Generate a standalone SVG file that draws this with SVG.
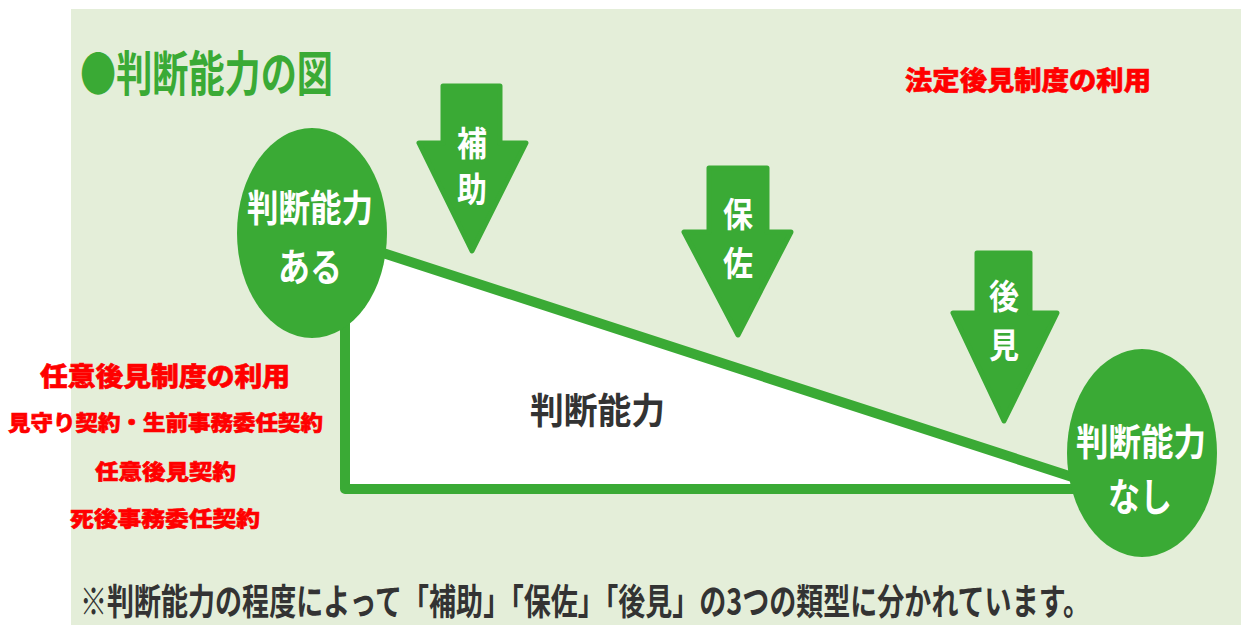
<svg xmlns="http://www.w3.org/2000/svg" width="1241" height="625" viewBox="0 0 1241 625">
<defs>
<style>
.g{fill:#3aaa35}
.arr{fill:#3aaa35;stroke:#3aaa35;stroke-width:5;stroke-linejoin:round}
.w{fill:#ffffff;font-family:"Noto Sans CJK JP","Noto Sans",sans-serif;font-weight:700;text-anchor:middle}
.k{fill:#333333;font-family:"Noto Sans CJK JP","Noto Sans",sans-serif;font-weight:700}
.r{fill:#ff0000;stroke:#ff0000;stroke-width:0.6;font-family:"Noto Sans CJK JP","Noto Sans",sans-serif;font-weight:900}
.ln{fill:none;stroke:#3aaa35;stroke-width:10;stroke-linejoin:round;stroke-linecap:round}
</style>
</defs>
<rect x="0" y="0" width="1241" height="625" fill="#ffffff"/>
<rect x="71" y="9" width="1170" height="616" fill="#e4eed9"/>

<g id="title" transform="translate(80,73) scale(1,1.28)">
<text x="0" y="14" font-size="37" textLength="253" lengthAdjust="spacingAndGlyphs" style="fill:#3aaa35;font-family:'Noto Sans CJK JP',sans-serif;font-weight:700">●判断能力の図</text>
</g>

<g id="triangle-area">
<polygon points="345,241 1100,486 345,489" fill="#ffffff"/>
</g>

<g id="connectors">
<polyline class="ln" points="345,300 345,489 1100,489"/>
<line class="ln" x1="340" y1="239" x2="1100" y2="486"/>
</g>

<g id="node-capacity-label" transform="translate(597,410) scale(1,1.15)">
<text class="k" x="-67" y="12" font-size="32" textLength="135" lengthAdjust="spacingAndGlyphs">判断能力</text>
</g>

<g id="node-ari">
<ellipse class="g" cx="312" cy="233" rx="75" ry="105"/>
<g transform="translate(310,209) scale(1,1.2)"><text class="w" x="0" y="11" font-size="31" textLength="126" lengthAdjust="spacingAndGlyphs">判断能力</text></g>
<g transform="translate(310,267) scale(1,1.2)"><text class="w" x="0" y="12" font-size="32">ある</text></g>
</g>

<g id="node-nashi">
<ellipse class="g" cx="1142" cy="453" rx="75" ry="104"/>
<g transform="translate(1141,443) scale(1,1.2)"><text class="w" x="0" y="11" font-size="31" textLength="130" lengthAdjust="spacingAndGlyphs">判断能力</text></g>
<g transform="translate(1140,497) scale(1,1.2)"><text class="w" x="0" y="12" font-size="32">なし</text></g>
</g>

<g id="node-hojo">
<polygon class="arr" points="443,86 500,86 500,143 526,143 472,251 419,143 443,143"/>
<g transform="translate(472,143) scale(1,1.15)"><text class="w" x="0" y="11" font-size="30">補</text></g>
<g transform="translate(472,189) scale(1,1.15)"><text class="w" x="0" y="11" font-size="30">助</text></g>
</g>

<g id="node-hosa">
<polygon class="arr" points="709,168 767,168 767,232 791,232 738,335 684,232 709,232"/>
<g transform="translate(738,214) scale(1,1.15)"><text class="w" x="0" y="11" font-size="30">保</text></g>
<g transform="translate(738,263) scale(1,1.15)"><text class="w" x="0" y="11" font-size="30">佐</text></g>
</g>

<g id="node-kouken">
<polygon class="arr" points="977,253 1030,253 1030,313 1057,313 1004,421 953,313 977,313"/>
<g transform="translate(1004,296) scale(1,1.15)"><text class="w" x="0" y="11" font-size="30">後</text></g>
<g transform="translate(1004,345) scale(1,1.15)"><text class="w" x="0" y="11" font-size="30">見</text></g>
</g>

<g id="note" transform="translate(80,601) scale(1,1.25)">
<text class="k" x="0" y="11" font-size="29" textLength="1010" lengthAdjust="spacingAndGlyphs" style="font-weight:600">※判断能力の程度によって「補助」「保佐」「後見」の3つの類型に分かれています。</text>
</g>

<g id="red-labels">
<text class="r" x="905" y="90" font-size="26" textLength="246" lengthAdjust="spacingAndGlyphs">法定後見制度の利用</text>
<text class="r" x="40" y="386" font-size="26" textLength="250" lengthAdjust="spacingAndGlyphs">任意後見制度の利用</text>
<text class="r" x="8" y="430" font-size="21" textLength="315" lengthAdjust="spacingAndGlyphs">見守り契約・生前事務委任契約</text>
<text class="r" x="95" y="479" font-size="21" textLength="141" lengthAdjust="spacingAndGlyphs">任意後見契約</text>
<text class="r" x="70" y="526" font-size="21" textLength="190" lengthAdjust="spacingAndGlyphs">死後事務委任契約</text>
</g>
</svg>
